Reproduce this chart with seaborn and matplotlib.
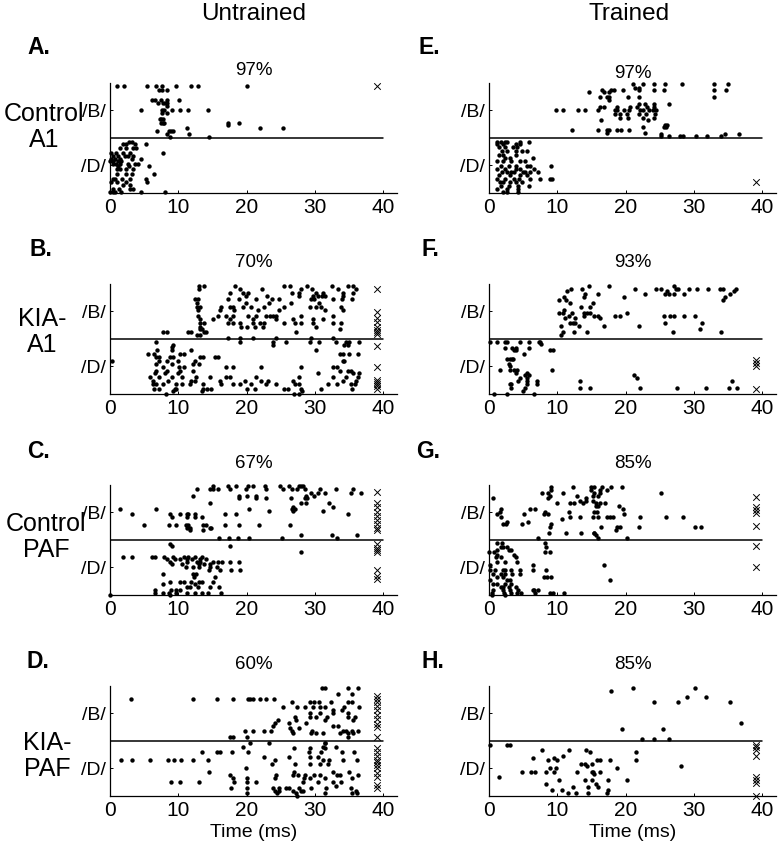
import matplotlib
matplotlib.use('Agg')
import numpy as np
import pandas as pd
import matplotlib.pyplot as plt
import seaborn as sns

# Raster data: each row is (trial position, spike times in ms); trials 0-15 = /D/, 15-30 = /B/
A_rows = [
    (29.2, [1.0, 2.1, 5.4, 6.8, 7.6, 9.6, 11.9, 12.9, 20.0]),
    (28.2, [7.2, 7.6, 8.3]),
    (25.4, [6.2, 6.6, 7.5, 8.3, 10.1]),
    (24.6, [7.0, 7.8, 8.1, 8.3]),
    (23.7, [8.3]),
    (22.7, [4.6, 7.6, 7.9, 9.1, 10.3, 11.4, 14.3]),
    (21.7, [7.6, 8.3]),
    (20.1, [7.3, 7.5, 7.7]),
    (19.0, [7.5, 7.8, 7.9, 17.3, 18.9]),
    (18.4, [17.3]),
    (17.6, [11.2, 22.0, 25.3]),
    (16.8, [6.9, 8.7, 8.9, 9.2]),
    (16.0, [8.3, 11.5]),
    (15.3, [8.8, 14.5]),
    (13.9, [2.8, 3.2]),
    (13.2, [1.9, 2.4, 3.6, 5.3]),
    (12.3, [1.5, 2.3, 3.3, 3.8]),
    (10.9, [0.2, 0.9, 1.9, 2.9, 7.8]),
    (10.0, [0.5, 1.1, 2.2, 2.6, 3.4]),
    (9.1, [0.1, 0.7, 1.5, 3.2, 4.6]),
    (8.7, [0.0, 0.5, 1.1, 1.6]),
    (7.8, [0.5, 0.9, 1.5, 2.7, 3.6, 4.1]),
    (7.2, [1.2, 2.8, 5.7]),
    (6.4, [1.0, 1.5, 2.4, 3.4]),
    (5.1, [1.0, 2.4, 3.2, 6.4]),
    (3.7, [0.5, 0.8, 1.7, 2.9, 5.3]),
    (2.8, [0.1, 1.0, 2.4, 5.4]),
    (2.1, [1.9, 2.9]),
    (1.0, [0.5, 1.3, 2.9, 3.4]),
    (0.1, [0.0, 0.5, 0.7, 1.6, 4.6, 8.0]),
]
A_miss = [29.2]

B_rows = [
    (29.4, [13.0, 13.7, 18.3, 25.4, 26.3, 28.9, 32.5, 34.8, 35.6]),
    (28.5, [13.0, 19.0, 22.2, 27.9, 29.6, 33.3, 36.0]),
    (27.6, [17.5, 19.4, 20.2, 26.6, 27.7, 30.2, 31.1, 34.1, 35.5]),
    (26.7, [19.9, 23.0, 27.6, 29.7, 30.5, 31.0, 31.5, 34.1]),
    (25.8, [12.4, 12.9, 17.3, 18.9, 21.4, 23.7, 24.8, 29.4, 29.9, 32.6, 33.9, 35.4]),
    (24.9, [12.7, 19.9, 23.3, 26.5, 30.6]),
    (23.6, [12.7, 13.1, 16.3, 17.5, 18.0, 19.5, 20.7, 22.6, 25.5, 29.2, 30.2, 30.9, 33.8]),
    (22.9, [12.9, 16.1, 18.2, 21.7, 24.8, 31.4, 34.1]),
    (21.2, [12.9, 15.8, 17.0, 18.0, 20.2, 21.4, 22.9, 23.4, 23.8, 24.3, 28.0, 32.7]),
    (20.3, [13.1, 15.1, 17.5, 20.9, 24.3, 26.8, 29.7, 31.1]),
    (19.2, [13.1, 13.7, 17.3, 18.0, 19.0, 20.9, 21.9, 22.6, 25.5, 27.0, 28.0, 29.7, 32.6, 33.8]),
    (18.3, [13.1, 19.2, 20.0, 21.2, 22.4, 30.1]),
    (17.6, [13.1, 13.4, 33.6]),
    (16.9, [7.8, 8.3, 11.4, 11.8, 13.7, 14.1, 27.2]),
    (16.0, [12.7, 13.2]),
    (15.3, [17.3, 19.0, 20.9, 24.3, 29.4, 32.6]),
    (14.1, [6.7, 19.0, 23.8, 25.8, 29.2, 30.6, 33.1, 34.5, 35.0, 36.5]),
    (13.2, [9.2, 23.8, 34.3, 34.8]),
    (12.8, [9.1]),
    (11.8, [6.9, 9.0, 11.9, 30.1]),
    (10.9, [5.5, 6.5, 10.2, 10.9, 33.6, 34.1, 35.0, 36.3]),
    (10.0, [6.8, 7.1, 8.8, 9.2, 13.1, 13.6, 15.3, 15.8]),
    (8.9, [0.3, 7.1, 8.3, 10.0, 12.4, 34.1, 34.3]),
    (8.0, [6.8, 9.0, 12.1, 13.0]),
    (7.2, [7.8, 10.1, 10.9, 17.0, 18.0, 22.1, 28.0, 32.7, 33.2]),
    (6.3, [6.8, 8.3, 10.2, 12.2, 33.6, 34.8, 35.3]),
    (5.7, [6.6, 8.0, 9.9, 30.4, 35.5, 36.5]),
    (4.5, [5.8, 7.1, 9.0, 10.5, 12.6, 14.6, 17.0, 17.5, 21.4, 27.7, 32.6, 34.5, 36.3]),
    (3.4, [6.3, 8.5, 11.9, 12.4, 16.1, 19.7, 22.1, 23.1, 26.8, 34.1, 36.0]),
    (2.5, [6.3, 6.7, 7.8, 9.7, 10.5, 11.7, 13.6, 16.3, 18.0, 19.0, 20.7, 22.9, 24.3,
           27.0, 27.7, 31.9, 33.2, 35.3, 35.8]),
    (1.3, [6.4, 7.1, 9.5, 9.7, 13.6, 14.2, 14.8, 20.0, 21.2, 25.5, 26.0, 28.0, 30.9, 35.4]),
    (0.6, [9.2, 13.5, 28.1]),
    (0.0, [8.2, 26.9, 27.7]),
]
B_miss = [28.6, 22.2, 20.8, 19.6, 18.3, 17.4, 16.8, 16.3, 13.1, 7.2, 3.7, 3.2, 2.6, 2.0, 1.3]

C_rows = [
    (29.6, [15.0, 17.3, 18.5, 20.2, 20.9, 22.7, 24.9, 26.2, 27.6, 28.0, 28.2]),
    (28.9, [12.7, 14.6, 15.1, 15.8, 17.6, 19.9, 22.9, 25.3, 26.6, 27.3, 28.5, 30.7, 33.0, 35.6]),
    (27.9, [29.4, 30.4, 31.5, 35.3, 36.8]),
    (27.0, [12.1, 18.9, 20.0, 21.4, 28.7, 29.9]),
    (26.4, [18.9, 21.4, 22.9, 26.5, 28.6, 28.9]),
    (25.0, [14.7, 27.9, 28.7, 32.1]),
    (24.0, [26.8, 32.6]),
    (23.5, [1.4, 6.8, 20.3, 26.7, 27.0]),
    (22.8, [23.3, 26.8, 31.1]),
    (22.0, [3.2, 8.8, 10.2, 11.2, 11.4, 12.4, 16.8, 18.5, 34.9]),
    (21.3, [9.1, 11.3, 12.4, 13.4]),
    (19.0, [5.0, 8.7, 9.7, 11.1, 11.4, 13.6, 14.0, 16.9, 18.9, 21.8, 26.4]),
    (18.3, [11.2, 11.7, 14.7, 14.8]),
    (17.8, [11.7, 13.6]),
    (16.2, [28.0, 32.5, 36.1]),
    (15.6, [15.9, 17.4, 18.7, 20.4, 25.2, 33.2]),
    (13.9, [8.8]),
    (13.2, [9.0, 17.5]),
    (11.7, [27.9]),
    (10.3, [1.9, 3.2, 6.1, 6.6, 7.9, 9.2, 10.9, 11.4, 12.4, 13.5]),
    (9.6, [8.3, 9.5, 10.2, 11.2, 12.0, 13.1, 14.1]),
    (9.0, [8.8, 11.3, 12.7, 13.2, 15.1, 15.8, 16.4, 17.5, 18.9]),
    (8.3, [9.1, 10.6, 13.0, 13.7, 14.6]),
    (7.5, [11.1, 12.2, 13.0, 14.6, 15.6]),
    (6.8, [14.5, 16.1, 17.7, 19.0]),
    (5.7, [7.8, 12.2, 12.6]),
    (4.8, [12.3, 15.3]),
    (3.4, [8.8, 10.2, 10.9, 11.9, 13.0, 13.5, 15.1]),
    (2.8, [7.8, 12.4]),
    (2.0, [11.2, 11.7, 12.9, 14.6, 15.9]),
    (1.3, [6.6, 8.9, 9.6, 10.2]),
    (0.5, [6.6, 7.8, 8.7, 9.7, 11.2, 12.4, 13.4, 14.3, 16.3]),
    (0.0, [0.0, 8.8]),
]
C_miss = [28.2, 25.0, 23.9, 22.7, 21.5, 20.4, 19.3, 18.3, 17.8, 13.9, 12.8, 12.1, 11.7, 6.6, 5.2, 4.3]

D_rows = [
    (29.4, [31.0, 31.5, 34.8, 36.3]),
    (27.9, [33.3, 35.4]),
    (26.4, [3.1, 12.1, 15.6, 18.0, 20.2, 20.5, 20.9, 21.9, 22.9, 24.0]),
    (25.7, [26.7, 29.3, 29.9, 30.6, 32.4, 34.8, 35.4]),
    (24.2, [25.3, 27.3, 28.6, 29.7, 30.7, 31.4, 34.3, 36.5]),
    (23.4, [32.6, 33.9]),
    (22.7, [29.2, 30.7, 32.7, 34.8]),
    (21.4, [27.1, 29.2, 30.1, 31.7, 34.9, 35.9]),
    (20.7, [24.6, 27.2, 31.5, 35.5]),
    (19.8, [24.2, 26.2, 28.7]),
    (19.1, [23.8, 32.7, 33.3]),
    (18.4, [26.4, 27.7]),
    (17.8, [19.7, 20.9, 22.6, 23.6, 26.7, 29.6, 34.1, 34.6, 35.4, 36.3]),
    (17.0, [26.8, 29.4, 30.2, 31.2, 33.6, 34.9, 35.6]),
    (16.1, [17.5, 18.0, 20.0, 34.9]),
    (14.3, [20.5, 23.3, 31.4, 31.5]),
    (13.4, [19.5, 31.1, 33.1]),
    (12.9, [26.9, 29.3, 31.4]),
    (11.8, [13.5, 15.6, 16.1, 17.9, 20.2, 29.1, 30.9, 33.9, 35.7]),
    (10.5, [22.6, 26.2, 29.3, 30.4]),
    (9.6, [1.6, 3.2, 5.9, 8.5, 9.4, 10.4, 12.1, 14.4, 24.1, 31.2, 32.1, 34.1, 36.1]),
    (8.7, [23.7, 27.1, 29.3, 30.7, 31.9]),
    (7.5, [19.9]),
    (6.5, [14.5, 26.9, 32.6, 35.0]),
    (5.7, [17.6, 24.3, 26.8, 27.5, 28.6, 29.8, 30.8, 33.2, 33.6, 36.3]),
    (4.7, [18.0, 20.0, 24.2, 28.4, 29.3, 31.5, 35.4]),
    (3.6, [8.9, 10.2, 13.0, 18.2, 20.0, 21.4, 28.2, 30.4, 32.6, 33.8]),
    (2.7, [33.1]),
    (2.0, [17.7, 20.0, 23.8, 24.8, 25.7, 26.2, 27.6, 29.4, 31.6, 35.3]),
    (1.1, [24.2, 24.7, 26.8, 28.0, 28.2, 36.0]),
    (0.6, [20.0, 24.4, 27.2, 31.5, 35.4, 36.1]),
    (0.0, [27.4]),
]
D_miss = [27.3, 26.5, 25.7, 24.5, 23.4, 22.1, 20.9, 19.6, 18.9, 16.1,
          12.9, 11.8, 10.8, 9.8, 9.1, 8.4, 7.5, 6.3, 5.2, 2.9, 2.0]

E_rows = [
    (29.6, [21.0, 22.5, 24.2, 25.7, 28.2, 32.9, 35.0]),
    (28.7, [21.3, 22.0]),
    (28.0, [16.6, 17.9, 18.3, 19.6, 21.9, 24.2, 25.6, 32.9, 34.7]),
    (27.4, [14.6, 16.8, 17.5]),
    (26.3, [16.2, 17.3, 17.5, 20.4, 21.9, 32.9]),
    (25.4, [17.5]),
    (24.3, [22.0, 22.9, 24.1, 26.3]),
    (23.4, [16.2, 16.8, 18.8, 20.7, 21.7, 23.1, 24.2]),
    (22.5, [9.8, 10.9, 13.0, 14.1, 16.0, 18.5, 18.7, 19.7, 20.5, 22.1, 22.6, 23.4, 24.0, 24.4]),
    (21.4, [18.5, 19.2, 20.2, 22.0, 23.0, 24.3]),
    (20.5, [19.2, 20.3, 22.6, 24.1]),
    (19.8, [16.4, 23.2]),
    (18.4, [25.8, 26.0]),
    (17.9, [22.6, 25.6, 25.9]),
    (17.0, [12.2, 16.0, 17.3, 17.5, 18.7, 19.3, 20.5]),
    (16.4, [17.3, 22.8]),
    (16.0, [25.1, 34.6, 36.6]),
    (15.4, [25.1, 26.4, 28.0, 28.4, 30.3, 31.9, 34.0]),
    (13.8, [1.1, 1.7, 2.4, 2.7, 4.5, 5.8]),
    (13.2, [1.2, 2.0, 3.9, 4.6]),
    (12.4, [1.4, 2.4, 3.5, 4.1]),
    (11.3, [1.9, 2.7, 3.9, 4.8, 5.6]),
    (10.4, [1.4, 2.1, 4.0]),
    (9.5, [2.4, 3.0, 6.5]),
    (8.6, [1.2, 2.0, 3.2, 4.6, 5.3]),
    (7.3, [1.7, 2.9, 3.9, 5.5, 6.0, 9.0]),
    (6.5, [1.2, 2.4, 4.0, 4.6, 6.6]),
    (5.6, [1.9, 2.7, 3.2, 3.7, 5.0, 5.3, 6.0, 7.2]),
    (4.9, [1.4, 3.1, 4.6, 5.6]),
    (3.8, [1.1, 2.4, 3.6, 4.4, 6.0, 7.5, 8.9, 9.2]),
    (2.8, [1.6, 2.1, 3.1, 4.0, 4.8]),
    (1.8, [1.8, 2.9, 4.3, 5.8]),
    (0.9, [1.2, 2.6, 4.3]),
    (0.2, [2.1, 2.6, 4.3]),
]
E_miss = [2.8]

F_rows = [
    (29.4, [14.7, 17.5, 27.0]),
    (28.7, [12.0, 13.6, 21.4, 24.4, 25.2, 27.3, 27.6, 29.2, 30.4, 32.1, 33.8, 34.3, 36.2]),
    (28.1, [11.4, 26.1, 35.8]),
    (27.2, [14.1, 16.0, 22.9, 25.8, 26.3, 27.0, 28.6, 35.2]),
    (26.5, [11.0, 13.9, 19.8, 34.5]),
    (25.6, [10.2, 11.2, 34.3]),
    (24.7, [11.9, 15.2]),
    (23.6, [13.4, 14.8]),
    (22.8, [11.0]),
    (22.1, [10.2, 10.9, 12.1, 13.9, 14.3, 14.8, 20.2]),
    (21.2, [11.7, 13.9, 15.3, 16.0, 18.5, 19.2, 25.6, 26.5, 27.0, 28.5, 30.1]),
    (20.6, [11.1, 12.6, 16.3]),
    (19.2, [11.9, 12.3, 12.6, 25.7, 31.2]),
    (18.4, [10.5, 13.1, 16.9, 21.9]),
    (17.8, [30.9]),
    (16.9, [10.8, 12.4, 14.3, 26.9, 33.9]),
    (16.0, [10.5]),
    (14.0, [0.2, 1.1, 2.4, 2.7, 4.5, 5.8, 7.3, 7.5]),
    (13.5, [7.6]),
    (12.6, [2.4, 3.4, 3.9, 5.9]),
    (11.8, [3.7, 3.9, 8.9, 9.3]),
    (10.7, [5.1]),
    (9.5, [2.7, 3.1, 3.4, 3.5]),
    (8.1, [2.9]),
    (7.4, [3.1]),
    (6.5, [1.6, 3.0, 3.7, 4.1, 9.2]),
    (5.6, [4.0, 5.5]),
    (5.0, [5.3, 5.8, 21.2]),
    (4.3, [4.5, 5.6, 21.7]),
    (3.5, [4.3, 5.6, 7.0, 13.3, 35.6]),
    (2.5, [3.1, 3.2, 5.5, 7.0]),
    (1.5, [3.2, 5.3, 13.3, 14.8, 22.1, 27.5, 31.7, 35.1, 36.3]),
    (0.6, [5.0]),
    (0.0, [0.7, 2.7, 6.6]),
]
F_miss = [9.2, 8.4, 7.4, 1.3]

G_rows = [
    (29.4, [9.1, 12.3, 14.9, 15.4, 16.6, 17.8, 19.4]),
    (28.6, [9.0, 14.9, 16.2, 17.2]),
    (27.9, [7.8, 8.7, 10.8, 15.4, 16.3, 25.1]),
    (27.0, [8.9, 12.9, 15.2, 16.0]),
    (26.4, [0.6, 8.6, 14.2]),
    (25.7, [13.3, 14.2, 15.2]),
    (25.2, [9.9, 11.9, 12.4, 13.8, 15.7, 16.3, 17.0]),
    (24.2, [15.6, 15.9, 19.0]),
    (23.5, [1.7, 6.0, 6.8, 19.6]),
    (22.7, [1.6, 8.2, 11.7, 15.4, 15.8]),
    (22.0, [1.1, 5.1, 8.0, 8.6, 19.7]),
    (21.3, [1.7, 11.9, 13.3, 15.2, 15.9, 17.3, 17.7, 18.1, 22.1, 25.9, 28.4]),
    (20.6, [10.7]),
    (19.9, [2.7, 5.7]),
    (19.3, [2.1, 2.5, 4.8, 9.0]),
    (18.4, [8.9, 16.4, 18.8, 19.1, 21.9, 30.2, 31.0]),
    (17.8, [18.6]),
    (16.9, [8.8, 11.2, 13.4, 15.3, 15.4]),
    (16.3, [15.6]),
    (15.6, [7.2, 15.9, 20.2]),
    (14.0, [1.1, 1.9, 8.2]),
    (13.1, [1.7, 2.1, 2.6, 8.3]),
    (12.2, [1.1, 2.9, 3.2]),
    (11.7, [0.0, 0.7, 8.2, 8.9]),
    (10.9, [1.2, 3.7]),
    (10.3, [1.0, 1.7, 3.9]),
    (9.0, [1.2, 2.4, 4.1]),
    (8.1, [0.2, 6.4, 16.9]),
    (6.7, [0.2, 0.9, 2.1, 2.4, 3.2, 4.6, 6.4, 8.4]),
    (5.6, [0.6, 1.7, 2.4, 3.4, 4.5]),
    (4.8, [1.2, 2.1, 8.1, 8.5, 9.0]),
    (3.9, [0.2, 2.7, 3.1, 17.7]),
    (3.0, [0.6, 1.2, 2.4, 3.2]),
    (2.1, [1.7, 2.1, 2.9, 3.9]),
    (1.2, [0.6, 2.1, 3.1, 4.3, 6.5, 6.6, 7.2]),
    (0.5, [0.4, 2.2, 3.2, 4.1, 4.7, 6.8, 8.9, 9.4, 11.0]),
    (0.0, [0.4, 2.4]),
]
G_miss = [26.6, 24.0, 23.2, 22.3, 18.9, 13.2, 7.4]

H_rows = [
    (29.4, [21.0, 30.1]),
    (28.7, [17.9]),
    (27.1, [29.0, 31.7]),
    (25.7, [24.2, 27.7, 35.2]),
    (19.8, [36.9]),
    (18.3, [19.4, 25.5]),
    (15.4, [22.4, 24.2, 26.3]),
    (13.9, [0.1, 2.6, 3.0]),
    (12.5, [7.8, 11.7, 14.2]),
    (11.8, [14.8, 21.5]),
    (10.9, [10.9]),
    (10.3, [6.4, 9.5]),
    (9.6, [8.7, 10.0, 15.8, 16.3, 17.7, 21.5]),
    (8.7, [13.4, 14.1, 15.1]),
    (8.1, [14.3, 28.1]),
    (7.4, [8.9, 9.8, 18.7]),
    (6.5, [4.9, 6.2, 6.8, 8.4, 9.5, 12.9, 15.0, 15.2, 16.2]),
    (5.9, [15.3]),
    (5.2, [1.4]),
    (4.3, [10.2, 14.0, 15.0, 17.4, 20.2]),
    (3.1, [8.4, 15.7]),
    (2.2, [12.3, 14.5, 15.9]),
    (1.5, [9.2, 10.7, 17.4]),
    (0.6, [11.6, 12.7, 14.5, 17.3]),
]
H_miss = [13.9, 13.4, 12.5, 10.8, 5.2, 4.3, 3.4, 0.0]

percent = ['97%', '70%', '67%', '60%', '97%', '93%', '85%', '85%']
letters = ['A.', 'B.', 'C.', 'D.', 'E.', 'F.', 'G.', 'H.']
groups = ['Control\nA1', 'KIA-\nA1', 'Control\nPAF', 'KIA-\nPAF']
miss_time = 39.0


def to_frame(rows):
    recs = [(t, y) for y, ts in rows for t in ts]
    return pd.DataFrame(recs, columns=['time', 'trial'])


sns.set_theme(style='ticks')
plt.rcParams['font.family'] = ['Liberation Sans', 'DejaVu Sans']
plt.rcParams['text.color'] = 'black'
plt.rcParams['axes.labelcolor'] = 'black'
plt.rcParams['xtick.color'] = 'black'
plt.rcParams['ytick.color'] = 'black'

W, H = 781, 856
fig = plt.figure(figsize=(W / 100, H / 100), dpi=100)

all_rows = [A_rows, B_rows, C_rows, D_rows, E_rows, F_rows, G_rows, H_rows]
all_miss = [A_miss, B_miss, C_miss, D_miss, E_miss, F_miss, G_miss, H_miss]
tops = [83, 284, 485, 686]
lefts = [110, 489]
title_pads = [5.5, 12, 12, 12, 3.5, 12, 12, 12]
letter_pos = [(27, 47), (30, 250), (27, 452), (27, 662),
              (419, 47), (421, 250), (416, 452), (421, 662)]

for i in range(8):
    col, row = divmod(i, 4)
    left, top = lefts[col], tops[row]
    ax = fig.add_axes([left / W, 1 - (top + 109.5) / H, 287 / W, 109.5 / H])
    df = to_frame(all_rows[i])
    sns.scatterplot(data=df, x='time', y='trial', ax=ax, color='black',
                    s=10, linewidth=0, clip_on=False)
    miss = pd.DataFrame({'time': [miss_time] * len(all_miss[i]), 'trial': all_miss[i]})
    sns.scatterplot(data=miss, x='time', y='trial', ax=ax, color='black',
                    marker='x', s=22, linewidth=0.7, clip_on=False)
    ax.plot([0, 40], [15, 15], color='black', lw=1.1)
    ax.set_xlim(0, 42)
    ax.set_ylim(0, 30)
    ax.set_xticks([0, 10, 20, 30, 40])
    ax.set_yticks([7.5, 22.5])
    ax.set_yticklabels(['/D/', '/B/'], fontsize=14)
    ax.tick_params(axis='x', labelsize=15, direction='in', length=2.5, width=0.7, pad=4, colors='black')
    ax.tick_params(axis='y', direction='in', length=2.5, width=0.7, pad=3, colors='black')
    sns.despine(ax=ax)
    for s in ['left', 'bottom']:
        ax.spines[s].set_linewidth(0.9)
        ax.spines[s].set_color('black')
    ax.set_ylabel('')
    if row == 3:
        ax.set_xlabel('Time (ms)', fontsize=14, labelpad=3, color='black')
    else:
        ax.set_xlabel('')
    ax.set_title(percent[i], fontsize=13.5, pad=title_pads[i], color='black')
    lx, ly = letter_pos[i]
    fig.text(lx / W, 1 - ly / H, letters[i], ha='left', va='center',
             fontsize=16.5, fontweight='bold', color='black')

fig.text(254 / W, 1 - 14 / H, 'Untrained', ha='center', va='center', fontsize=17.5, color='black')
fig.text(629 / W, 1 - 14 / H, 'Trained', ha='center', va='center', fontsize=17.5, color='black')

group_pos = [(44, 127), (42, 332), (46, 537), (47, 756)]
for g, (gx, gy) in zip(groups, group_pos):
    fig.text(gx / W, 1 - gy / H, g, ha='center', va='center', fontsize=18,
             linespacing=1.15, color='black')

fig.savefig('out.png', dpi=100, facecolor='white')
